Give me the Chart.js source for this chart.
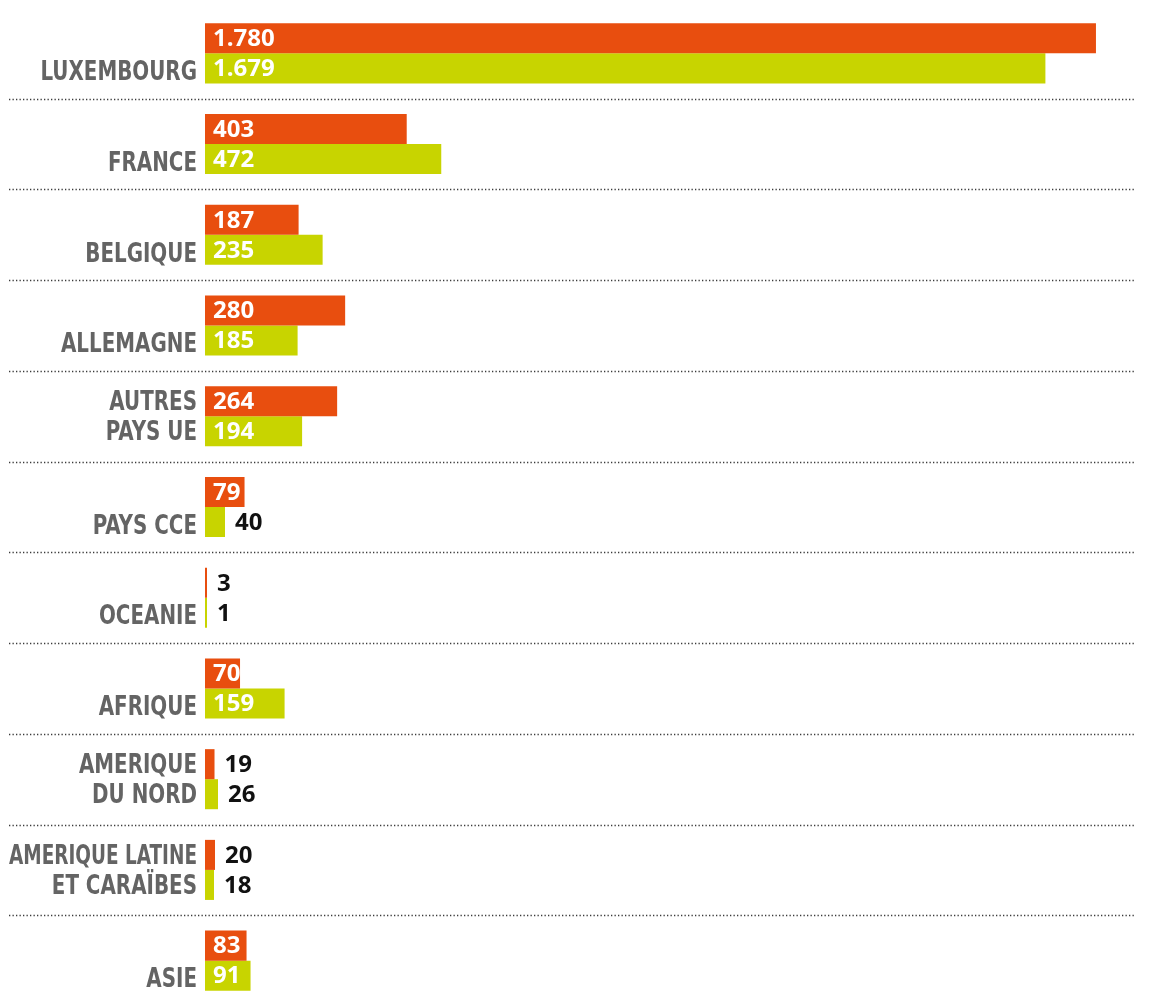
<!DOCTYPE html>
<html>
<head>
<meta charset="utf-8">
<script src="https://cdn.jsdelivr.net/npm/chart.js@4/dist/chart.umd.min.js"></script>
<style>
  html, body { margin: 0; padding: 0; background: #fff; overflow: hidden; }
  #wrap { position: relative; width: 1170px; height: 1010px; }
</style>
</head>
<body>
<div id="wrap"><canvas id="bars"></canvas></div>
<script>
const categories = [
  ['', 'LUXEMBOURG'],
  ['', 'FRANCE'],
  ['', 'BELGIQUE'],
  ['', 'ALLEMAGNE'],
  ['AUTRES', 'PAYS UE'],
  ['', 'PAYS CCE'],
  ['', 'OCEANIE'],
  ['', 'AFRIQUE'],
  ['AMERIQUE', 'DU NORD'],
  ['AMERIQUE LATINE', 'ET CARAÏBES'],
  ['', 'ASIE']
];
const seriesOrange = [1780, 403, 187, 280, 264, 79, 3, 70, 19, 20, 83];
const seriesGreen = [1679, 472, 235, 185, 194, 40, 1, 159, 26, 18, 91];

const ORANGE = '#e84e0f';
const GREEN = '#c8d400';
const VALUE_FONT = 'bold 24px "Open Sans", sans-serif';
const LABEL_FONT = 'bold 26px "DejaVu Sans Condensed", sans-serif';

function fmt(v) {
  return String(v).replace(/\B(?=(\d{3})+(?!\d))/g, '.');
}

// dotted separators between the groups, running under the labels too
const separators = {
  id: 'separators',
  beforeDatasetsDraw(chart) {
    const { ctx, chartArea, scales } = chart;
    const y = scales.y;
    ctx.save();
    ctx.strokeStyle = '#3a3a3a';
    ctx.lineWidth = 1.3;
    ctx.setLineDash([1.3, 2.2]);
    for (let i = 0; i < categories.length - 1; i++) {
      const py = Math.round((y.getPixelForValue(i) + y.getPixelForValue(i + 1)) / 2) + 0.5;
      ctx.beginPath();
      ctx.moveTo(9, py);
      ctx.lineTo(chartArea.right, py);
      ctx.stroke();
    }
    ctx.restore();
  }
};

// condensed category names, one line per bar, right-aligned against the axis
const categoryLabels = {
  id: 'categoryLabels',
  afterDraw(chart) {
    const { ctx, chartArea, scales } = chart;
    const y = scales.y;
    const right = chartArea.left - 8;
    ctx.save();
    ctx.font = LABEL_FONT;
    ctx.fillStyle = '#646464';
    ctx.textAlign = 'right';
    ctx.textBaseline = 'middle';
    categories.forEach((lines, i) => {
      const cy = y.getPixelForValue(i);
      const single = lines[0] === '';
      lines.forEach((txt, k) => {
        if (!txt) return;
        const w = ctx.measureText(txt).width;
        const sx = Math.min(0.85, (right - 9) / w);
        ctx.save();
        ctx.translate(right, cy + (k === 0 ? -15 : 15) + (single ? 5 : 2));
        ctx.scale(sx, 1);
        ctx.fillText(txt, 0, 0);
        ctx.restore();
      });
    });
    ctx.restore();
  }
};

// numbers inside the bar when they fit, otherwise just past its end
const valueLabels = {
  id: 'valueLabels',
  afterDatasetsDraw(chart) {
    const { ctx } = chart;
    ctx.save();
    ctx.font = VALUE_FONT;
    ctx.textBaseline = 'middle';
    ctx.textAlign = 'left';
    chart.data.datasets.forEach((ds, di) => {
      chart.getDatasetMeta(di).data.forEach((bar, i) => {
        const txt = fmt(ds.data[i]);
        const w = ctx.measureText(txt).width;
        const len = bar.x - bar.base;
        if (w + 6 <= len) {
          ctx.fillStyle = '#fff';
          ctx.fillText(txt, bar.base + 8, bar.y + 1);
        } else {
          ctx.fillStyle = '#111';
          ctx.fillText(txt, bar.x + 10, bar.y + 1);
        }
      });
    });
    ctx.restore();
  }
};

new Chart(document.getElementById('bars'), {
  type: 'bar',
  data: {
    labels: categories,
    datasets: [
      { data: seriesOrange, backgroundColor: ORANGE, minBarLength: 2 },
      { data: seriesGreen, backgroundColor: GREEN, minBarLength: 2 }
    ]
  },
  options: {
    indexAxis: 'y',
    responsive: true,
    maintainAspectRatio: false,
    animation: false,
    categoryPercentage: 0.662,
    barPercentage: 1,
    layout: { padding: { top: 8, bottom: 4, right: 34, left: 0 } },
    plugins: {
      legend: { display: false },
      tooltip: { enabled: false }
    },
    scales: {
      x: {
        display: false,
        min: 0,
        max: 1860
      },
      y: {
        grid: { display: false },
        border: { display: false },
        ticks: { display: false },
        afterFit(scale) {
          scale.width = 205;
          scale.paddingTop = 0;
          scale.paddingBottom = 0;
        }
      }
    }
  },
  plugins: [separators, valueLabels, categoryLabels]
});
</script>
</body>
</html>
